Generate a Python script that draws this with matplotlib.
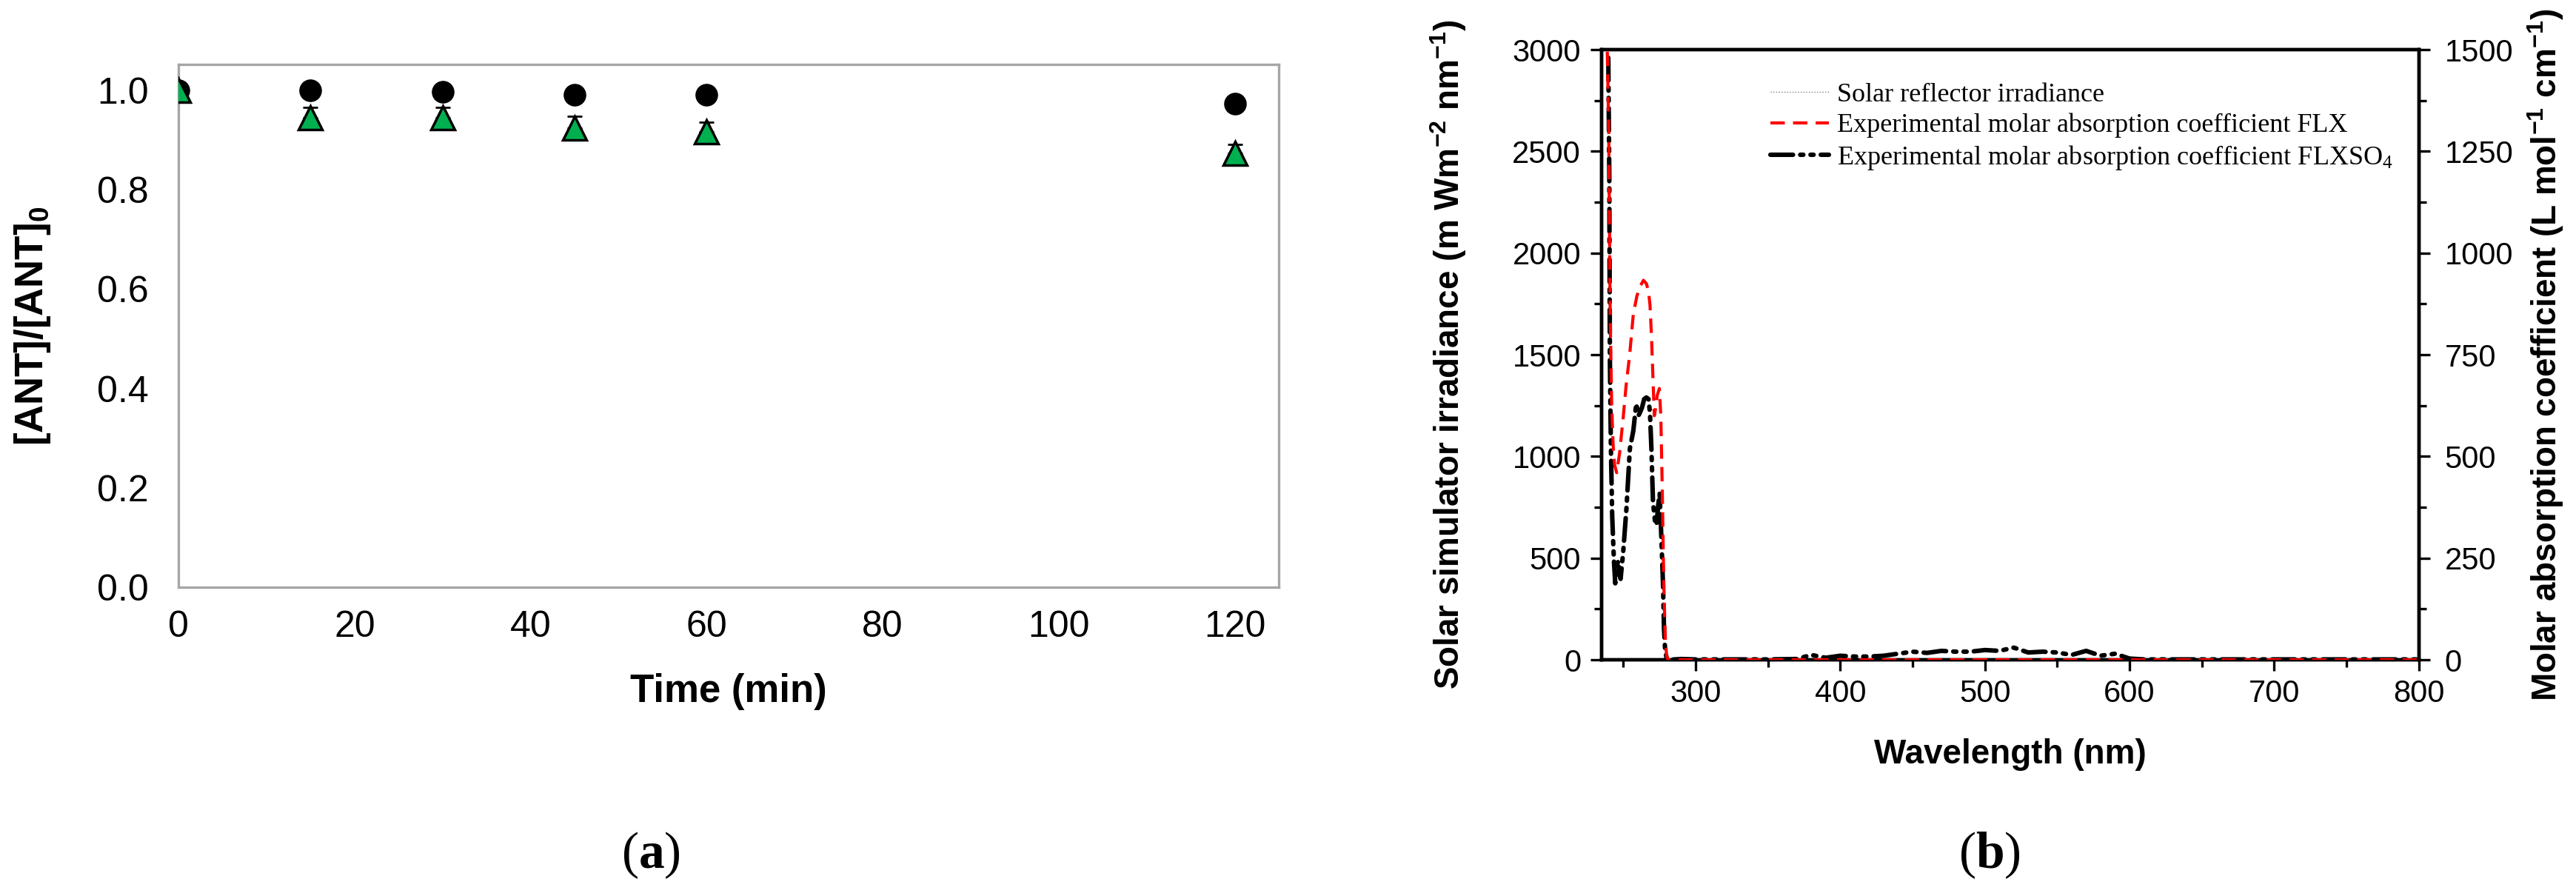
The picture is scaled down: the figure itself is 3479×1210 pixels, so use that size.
import matplotlib
matplotlib.use("Agg")
import matplotlib.pyplot as plt
from matplotlib.ticker import MultipleLocator
from matplotlib.lines import Line2D

plt.rcParams['font.family'] = ['Liberation Sans', 'DejaVu Sans']
plt.rcParams['mathtext.default'] = 'regular'
plt.rcParams['mathtext.fontset'] = 'custom'
plt.rcParams['mathtext.rm'] = 'Liberation Serif'
plt.rcParams['mathtext.bf'] = 'Liberation Serif:bold'
plt.rcParams['lines.scale_dashes'] = False

# ---- panel (a): ANT decay ----
time_min = [0, 15, 30, 45, 60, 120]
ant_dark = [1.0, 1.0, 0.997, 0.991, 0.991, 0.973]
ant_light = [1.0, 0.945, 0.945, 0.924, 0.917, 0.873]
ant_light_err = [0.008, 0.02, 0.02, 0.024, 0.019, 0.018]

# ---- panel (b): spectra ----
wl_flx = [239, 240, 241, 242, 243, 244, 245.5, 247.5, 250, 252, 254.5, 257,
          259.5, 262, 264, 266, 267.5, 268.5, 269.5, 270.5, 271.5, 272.5,
          273.5, 275, 276, 277, 278, 279, 280, 281, 290, 400, 600, 800]
eps_flx = [1495, 1300, 850, 630, 530, 480, 460, 508, 596, 674, 751, 850,
           895, 920, 933, 925, 906, 873, 800, 700, 600, 620, 650, 667,
           600, 420, 200, 60, 10, 0, 0, 0, 0, 0]

wl_flxso4 = [239.7, 240.4, 240.8, 241.5, 242.4, 243.6, 244.5, 245.5, 246.6,
             247.5, 248.2, 250, 252.3, 254.6, 257, 259, 260.5, 261.5, 263,
             264.5, 266, 267.5, 268.5, 269.5, 270.6, 272, 273, 274.2, 275.2,
             276.4, 277.5, 278.2, 279, 280, 281, 290, 300, 350, 370, 380, 390,
             400, 410, 420, 430, 440, 450, 460, 470, 480, 490, 500, 510, 520,
             530, 540, 550, 560, 570, 580, 590, 600, 610, 700, 800]
eps_flxso4 = [1480, 1182, 740, 519, 353, 243, 188, 230, 243, 210, 199, 265,
              375, 519, 563, 630, 600, 607, 620, 641, 645, 641, 607, 519, 387,
              340, 331, 380, 409, 298, 188, 77, 22, 5, 0, 2, 1, 1, 2, 12, 5,
              10, 8, 8, 10, 15, 20, 17, 22, 20, 20, 24, 22, 30, 18, 20, 18,
              12, 22, 10, 15, 3, 1, 1, 1]

wl_solar = [280, 300, 400, 500, 600, 700, 800]
irr_solar = [0, 2, 4, 5, 5, 4, 3]

fig = plt.figure(figsize=(34.79, 12.10), dpi=100)

# panel (a)
axa = fig.add_axes([0.0693, 0.3446, 0.4271, 0.5835])
axa.errorbar(time_min, ant_light, yerr=[[0] * 6, ant_light_err], fmt='none',
             ecolor='black', elinewidth=2, capsize=7, capthick=2, zorder=2)
axa.plot(time_min, ant_dark, 'o', color='black', markersize=21, zorder=3)
axa.plot(time_min, ant_light, '^', color='#00b050', markeredgecolor='black',
         markeredgewidth=2.5, markersize=23, zorder=4)
axa.set_xlim(0, 125)
axa.set_ylim(0, 1.052)
axa.set_xticks([0, 20, 40, 60, 80, 100, 120])
axa.set_yticks([0.0, 0.2, 0.4, 0.6, 0.8, 1.0])
axa.yaxis.set_major_formatter(matplotlib.ticker.FormatStrFormatter('%.1f'))
for s in axa.spines.values():
    s.set_color('#a6a6a6')
    s.set_linewidth(2.4)
axa.tick_params(length=0, labelsize=36)
axa.tick_params(axis='y', pad=29)
axa.tick_params(axis='x', pad=22)
axa.set_xlabel('Time (min)', fontsize=38, fontweight='bold', va='center')
axa.set_ylabel('[ANT]/[ANT]$_0$', fontsize=38, fontweight='bold', va='center')
axa.xaxis.set_label_coords(0.5, -0.1997)
axa.yaxis.set_label_coords(-0.1326, 0.5)

# panel (b)
axb = fig.add_axes([0.6217, 0.2636, 0.3173, 0.6810])
axr = axb.twinx()
axb.plot(wl_solar, irr_solar, ':', color='#808080', linewidth=1)
axr.plot(wl_flxso4, eps_flxso4, color='black', linewidth=4.4,
         dashes=(22, 7, 3, 7, 3, 7), dash_capstyle='round', zorder=2)
axr.plot(wl_flx, eps_flx, color='red', linewidth=3.0, dashes=(14, 8), zorder=3)

axb.set_xlim(235, 800)
axb.set_ylim(0, 3000)
axr.set_ylim(0, 1500)
axb.xaxis.set_major_locator(MultipleLocator(100))
axb.xaxis.set_minor_locator(MultipleLocator(50))
axb.yaxis.set_major_locator(MultipleLocator(500))
axb.yaxis.set_minor_locator(MultipleLocator(250))
axr.yaxis.set_major_locator(MultipleLocator(250))
axr.yaxis.set_minor_locator(MultipleLocator(125))
for ax in (axb, axr):
    for s in ax.spines.values():
        s.set_linewidth(3.2)
    ax.tick_params(which='major', direction='out', length=11, width=2.4,
                   labelsize=30)
    ax.tick_params(which='minor', direction='out', length=7, width=2.4)
axb.tick_params(axis='y', pad=9)
axb.tick_params(axis='x', pad=8)
axr.tick_params(axis='y', pad=14)

axb.set_xlabel('Wavelength (nm)', fontsize=33, fontweight='bold', va='center')
axb.set_ylabel('Solar simulator irradiance (m Wm$^{-2}$ nm$^{-1}$)',
               fontsize=33, fontweight='bold', va='center')
axr.set_ylabel('Molar absorption coefficient (L mol$^{-1}$ cm$^{-1}$)',
               fontsize=33, fontweight='bold', va='center', rotation=90)
axb.xaxis.set_label_coords(0.5, -0.1553)
axb.yaxis.set_label_coords(-0.1875, 0.5)
axr.yaxis.set_label_coords(1.1549, 0.5)

handles = [
    Line2D([], [], color='#808080', linewidth=1, linestyle=':'),
    Line2D([], [], color='red', linewidth=3.0, dashes=(14, 8)),
    Line2D([], [], color='black', linewidth=4.4, dashes=(22, 7, 3, 7, 3, 7),
           dash_capstyle='round'),
]
labels = ['Solar reflector irradiance',
          'Experimental molar absorption coefficient FLX',
          'Experimental molar absorption coefficient FLXSO$_4$']
axr.legend(handles, labels, loc='upper left', bbox_to_anchor=(0.19, 0.968),
           frameon=False, borderpad=0, handlelength=2.2, handletextpad=0.3,
           labelspacing=0.22, prop={'family': 'Liberation Serif', 'size': 26})

fig.text(879 / 3479, 1 - 1155 / 1210, r'($\mathbf{a}$)', ha='center',
         va='center', fontsize=50, family='Liberation Serif')
fig.text(2687 / 3479, 1 - 1155 / 1210, r'($\mathbf{b}$)', ha='center',
         va='center', fontsize=50, family='Liberation Serif')

fig.savefig('out.png', dpi=100)
